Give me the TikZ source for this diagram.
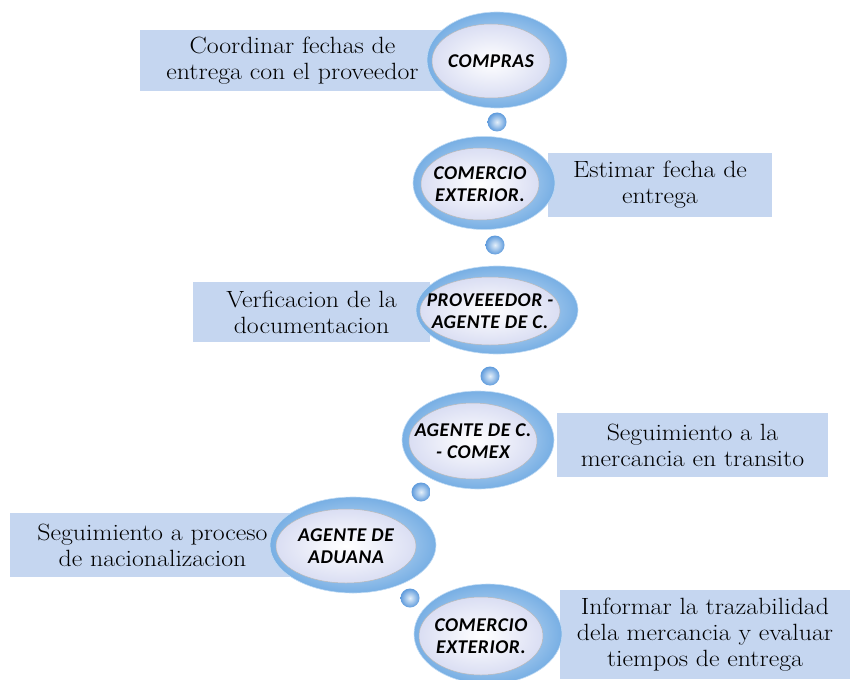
\documentclass[tikz,border=0pt]{standalone}
\usepackage{fontspec}
\setmainfont{Latin Modern Roman}[FakeStretch=1.1]
\newfontfamily\lblfont{Carlito}[LetterSpace=3]
\usetikzlibrary{shapes.geometric}
\definecolor{boxblue}{RGB}{197,214,240}
\definecolor{ringblue}{RGB}{165,203,240}
\definecolor{ringdark}{RGB}{120,175,228}
\definecolor{innerlav}{RGB}{218,222,243}
\definecolor{dotblue}{RGB}{95,155,220}
\tikzset{
  stepbox/.style={rectangle, fill=boxblue, draw=none, inner sep=0pt, align=center,
    font=\fontsize{23.5}{26}\selectfont},
  ringshape/.style={ellipse, inner color=ringblue!40!white, outer color=ringdark, draw=ringblue!70!white, line width=0.6pt},
  innershape/.style={ellipse, inner color=white, outer color=innerlav, draw=gray!55, line width=0.5pt, inner sep=0pt},
  lbl/.style={inner sep=0pt, align=center, font=\lblfont\bfseries\itshape\fontsize{19.5}{22}\selectfont},
  dotshape/.style={circle, inner color=ringblue!30!white, outer color=dotblue, minimum size=19pt, inner sep=0pt, draw=none}
}
\begin{document}
\begin{tikzpicture}[x=1pt,y=-1pt]
\useasboundingbox (0,0) rectangle (850,679);
% boxes
\node[stepbox, minimum width=305pt, minimum height=61pt] (b1) at (292.5,60.5) {Coordinar fechas de\\entrega con el proveedor};
\node[stepbox, minimum width=224pt, minimum height=64pt] (b2) at (660,185) {Estimar fecha de\\entrega};
\node[stepbox, minimum width=237pt, minimum height=60pt] (b3) at (311.5,312) {Verficacion de la\\documentacion};
\node[stepbox, minimum width=271pt, minimum height=64pt] (b4) at (692.5,445) {Seguimiento a la\\mercancia en transito};
\node[stepbox, minimum width=285pt, minimum height=64pt] (b5) at (152.5,545) {Seguimiento a proceso\\de nacionalizacion};
\node[stepbox, minimum width=290pt, minimum height=89pt] (b6) at (705,634.5) {Informar la trazabilidad\\dela mercancia y evaluar\\tiempos de entrega};
% rings
\node[ringshape, minimum width=140pt, minimum height=96pt] (r1) at (497,60) {};
\node[innershape, minimum width=118pt, minimum height=74pt] (e1) at (491,61) {};
\node[lbl] (t1) at (e1) {COMPRAS};
\node[ringshape, minimum width=142pt, minimum height=93pt] (r2) at (484,183) {};
\node[innershape, minimum width=118pt, minimum height=72pt] (e2) at (480,184) {};
\node[lbl] (t2) at (e2) {COMERCIO\\EXTERIOR.};
\node[ringshape, minimum width=162pt, minimum height=88pt] (r3) at (497,310) {};
\node[innershape, minimum width=140pt, minimum height=68pt] (e3) at (490,311) {};
\node[lbl] (t3) at (e3) {PROVEEEDOR -\\AGENTE DE C.};
\node[ringshape, minimum width=152pt, minimum height=98pt] (r4) at (478,440) {};
\node[innershape, minimum width=128pt, minimum height=76pt] (e4) at (473,441) {};
\node[lbl] (t4) at (e4) {AGENTE DE C.\\- COMEX};
\node[ringshape, minimum width=166pt, minimum height=96pt] (r5) at (353,545) {};
\node[innershape, minimum width=140pt, minimum height=74pt] (e5) at (346,546) {};
\node[lbl] (t5) at (e5) {AGENTE DE\\ADUANA};
\node[ringshape, minimum width=148pt, minimum height=100pt] (r6) at (488,634) {};
\node[innershape, minimum width=124pt, minimum height=78pt] (e6) at (481,636) {};
\node[lbl] (t6) at (e6) {COMERCIO\\EXTERIOR.};
% dots
\node[dotshape] (d1) at (497,122) {};
\node[dotshape] (d2) at (495,245) {};
\node[dotshape] (d3) at (490,376) {};
\node[dotshape] (d4) at (421,492) {};
\node[dotshape] (d5) at (410,598) {};
\end{tikzpicture}
\end{document}
